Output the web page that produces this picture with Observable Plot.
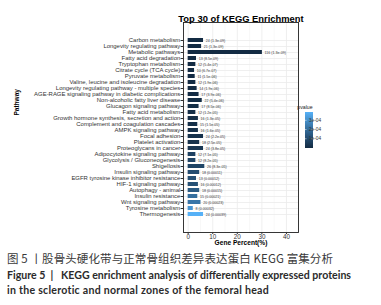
<!DOCTYPE html>
<html>
<head>
<meta charset="utf-8">
<script src="https://cdn.jsdelivr.net/npm/d3@7"></script>
<script src="https://cdn.jsdelivr.net/npm/@observablehq/plot@0.6"></script>
<style>
  html, body { margin: 0; padding: 0; background: #fff; }
  #wrap { position: relative; width: 381px; height: 305px; overflow: hidden; }
  #chart { position: absolute; left: 0; top: 0; }
  .cap { position: absolute; left: 7px; white-space: pre; color: #2b2b2b; }
  #cap1 { top: 251px; font-family: "Noto Sans CJK SC", sans-serif; font-size: 11.5px; line-height: 14px; letter-spacing: 0.1px; color: #3a3a3a; }
  #cap2 { top: 268px; font-family: "Lato", sans-serif; font-weight: bold; font-size: 10.6px; line-height: 14px; }
  #cap3 { top: 283px; font-family: "Lato", sans-serif; font-weight: bold; font-size: 10.6px; line-height: 14px; letter-spacing: 0.25px; }
</style>
</head>
<body>
<div id="wrap">
  <div id="chart"></div>
  <div class="cap" id="cap1">图 5 丨股骨头硬化带与正常骨组织差异表达蛋白 KEGG 富集分析</div>
  <div class="cap" id="cap2">Figure 5  |   KEGG enrichment analysis of differentially expressed proteins</div>
  <div class="cap" id="cap3">in the sclerotic and normal zones of the femoral head</div>
</div>
<script>
const pathways = [
  "Carbon metabolism",
  "Longevity regulating pathway",
  "Metabolic pathways",
  "Fatty acid degradation",
  "Tryptophan metabolism",
  "Citrate cycle (TCA cycle)",
  "Pyruvate metabolism",
  "Valine, leucine and isoleucine degradation",
  "Longevity regulating pathway - multiple species",
  "AGE-RAGE signaling pathway in diabetic complications",
  "Non-alcoholic fatty liver disease",
  "Glucagon signaling pathway",
  "Fatty acid metabolism",
  "Growth hormone synthesis, secretion and action",
  "Complement and coagulation cascades",
  "AMPK signaling pathway",
  "Focal adhesion",
  "Platelet activation",
  "Proteoglycans in cancer",
  "Adipocytokine signaling pathway",
  "Glycolysis / Gluconeogenesis",
  "Shigellosis",
  "Insulin signaling pathway",
  "EGFR tyrosine kinase inhibitor resistance",
  "HIF-1 signaling pathway",
  "Autophagy - animal",
  "Insulin resistance",
  "Wnt signaling pathway",
  "Tyrosine metabolism",
  "Thermogenesis"
];
const counts = [24, 21, 116, 13, 12, 10, 11, 12, 14, 17, 22, 17, 12, 16, 15, 16, 24, 18, 24, 12, 12, 26, 18, 13, 16, 18, 15, 20, 8, 24];
const pvalueLabels = ["1.3e-09", "1.3e-09", "1.3e-09", "8.5e-09", "5.4e-07", "6.7e-07", "1.5e-06", "1.9e-06", "1.9e-06", "3.9e-06",
  "5.4e-06", "8.5e-06", "1.2e-05", "1.3e-05", "1.5e-05", "1.6e-05", "2.2e-05", "2.5e-05", "3.8e-05", "7.1e-05",
  "8.2e-05", "8.3e-05", "0.00011", "0.00012", "0.00012", "0.00015", "0.00021", "0.00023", "0.00032", "0.00039"];
const genePercent = [6.25, 5.47, 30.21, 3.39, 3.13, 2.60, 2.86, 3.13, 3.65, 4.43,
  5.73, 4.43, 3.13, 4.17, 3.91, 4.17, 6.25, 4.69, 6.25, 3.13,
  3.13, 6.77, 4.69, 3.39, 4.17, 4.69, 3.91, 5.21, 2.08, 6.25];
const xTicks = [0, 10, 20, 30, 40];
const xMinorTicks = [5, 15, 25, 35];
const legendTicks = [1e-4, 2e-4, 3e-4];
const legendTickLabels = ["1e-04", "2e-04", "3e-04"];
const colorRange = ["#132B43", "#56B1F7"];

const data = pathways.map((p, i) => ({
  pathway: p,
  count: counts[i],
  pLabel: pvalueLabels[i],
  p: Number(pvalueLabels[i]),
  percent: genePercent[i]
}));
const pDomain = d3.extent(data, d => d.p);
const colorOpts = {type: "linear", domain: pDomain, range: colorRange, interpolate: "lab"};

const W = 381, H = 248;
const plot = Plot.plot({
  width: W, height: H,
  marginLeft: 183, marginRight: 83, marginTop: 22, marginBottom: 16,
  style: {fontFamily: "'Liberation Sans', Arial, sans-serif", background: "#fff"},
  x: {domain: [-1.9, 44.9], label: null},
  y: {domain: pathways, padding: 0.36, label: null},
  color: colorOpts,
  marks: [
    Plot.ruleX(xMinorTicks, {stroke: "#f0f0f0", strokeWidth: 0.5}),
    Plot.ruleX(xTicks, {stroke: "#ebebeb", strokeWidth: 0.8}),
    Plot.ruleY(pathways, {y: d => d, stroke: "#ebebeb", strokeWidth: 0.8}),
    Plot.barX(data, {x: "percent", y: "pathway", fill: "p"}),
    Plot.text(data, {x: "percent", y: "pathway", text: d => `${d.count} (${d.pLabel})`,
      textAnchor: "start", dx: 2.2, fontSize: 3.6, fill: "#333"}),
    Plot.frame({stroke: "#222", strokeWidth: 0.9}),
    Plot.axisY({tickSize: 2.4, tickPadding: 0.8, fontSize: 5.95, color: "#333", label: null}),
    Plot.axisX({ticks: xTicks, tickSize: 2, tickPadding: 0, fontSize: 6.3, color: "#333", label: null}),
    Plot.text(["Top 30 of KEGG Enrichment"], {text: d => d, frameAnchor: "top", dy: -7, fontSize: 9.4, fontWeight: "bold", fill: "#000"}),
    Plot.text(["Gene Percent(%)"], {text: d => d, frameAnchor: "bottom", dy: 12.3, fontSize: 6.6, fontWeight: "bold", fill: "#000"}),
    Plot.text(["Pathway"], {text: d => d, frameAnchor: "left", dx: -167, dy: -12, rotate: -90, fontSize: 6.5, fontWeight: "bold", fill: "#000"})
  ]
});
document.getElementById("chart").appendChild(plot);

// vertical colour bar legend
const cScale = Plot.scale({color: colorOpts});
const svg = d3.select(plot);
const lx = 305, lw = 8, ly0 = 112, ly1 = 148;
const ly = d3.scaleLinear().domain(pDomain).range([ly1, ly0]);
const defs = svg.append("defs");
const grad = defs.append("linearGradient").attr("id", "pgrad").attr("x1", 0).attr("y1", 1).attr("x2", 0).attr("y2", 0);
d3.range(0, 1.0001, 0.1).forEach(t => {
  grad.append("stop").attr("offset", t).attr("stop-color", cScale.apply(pDomain[0] + t * (pDomain[1] - pDomain[0])));
});
const lg = svg.append("g").attr("font-family", "'Liberation Sans', Arial, sans-serif");
lg.append("text").attr("x", lx).attr("y", 109).attr("font-size", 5.2).attr("fill", "#222").text("pvalue");
lg.append("rect").attr("x", lx).attr("y", ly0).attr("width", lw).attr("height", ly1 - ly0).attr("fill", "url(#pgrad)");
legendTicks.forEach((v, i) => {
  const y = ly(v);
  lg.append("line").attr("x1", lx).attr("x2", lx + 1.6).attr("y1", y).attr("y2", y).attr("stroke", "#fff").attr("stroke-width", 0.5);
  lg.append("line").attr("x1", lx + lw - 1.6).attr("x2", lx + lw).attr("y1", y).attr("y2", y).attr("stroke", "#fff").attr("stroke-width", 0.5);
  lg.append("text").attr("x", lx + lw + 2).attr("y", y).attr("dy", "0.35em").attr("font-size", 4.8).attr("fill", "#333").text(legendTickLabels[i]);
});
</script>
</body>
</html>
